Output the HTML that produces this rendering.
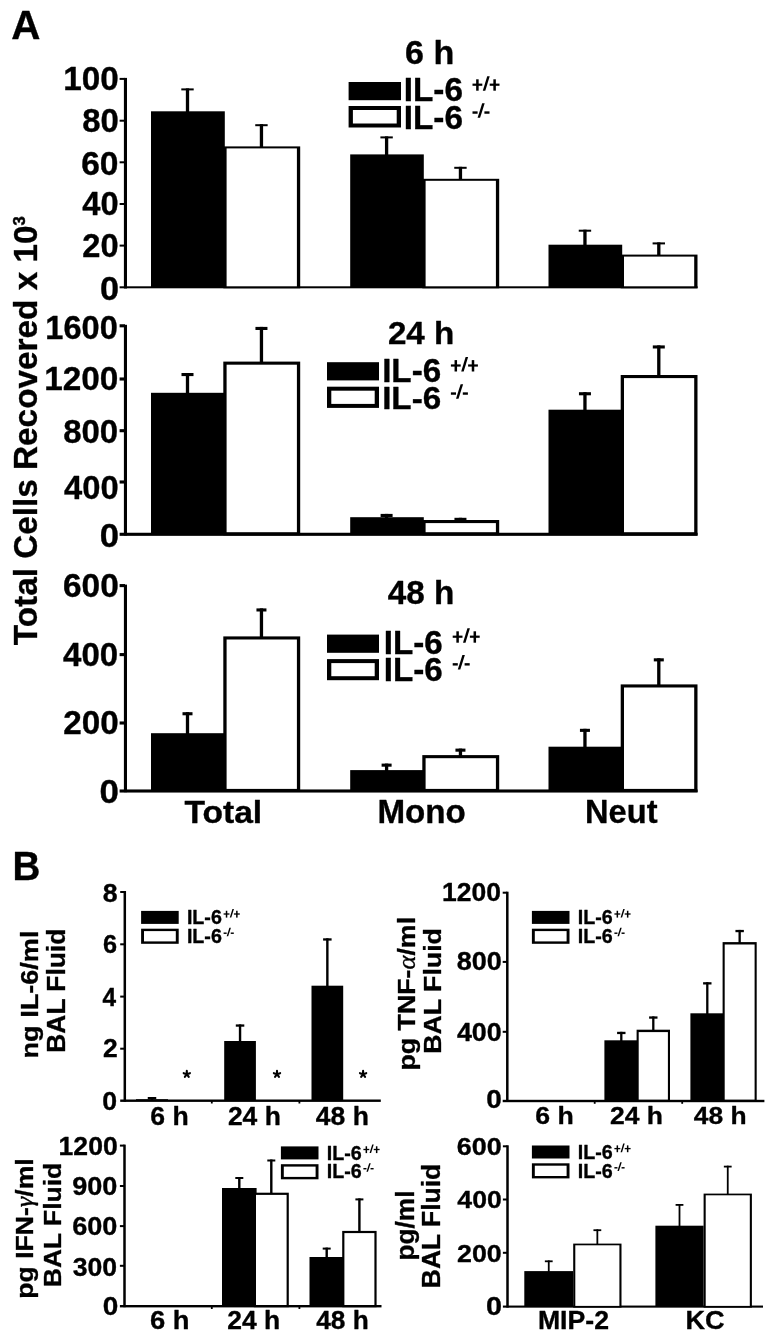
<!DOCTYPE html>
<html><head><meta charset="utf-8"><style>
html,body{margin:0;padding:0;background:#fff;overflow:hidden;}
svg{display:block;will-change:transform;}
text{font-family:"Liberation Sans",sans-serif;}
</style></head><body>
<svg width="778" height="1339" viewBox="0 0 778 1339">
<rect width="778" height="1339" fill="#fff"/>
<text transform="translate(11.16,38.73) scale(0.4038,0.4152)" font-size="100" style="font-kerning:normal" stroke="#000" stroke-width="0.85" stroke-linejoin="round"><tspan font-family="Liberation Sans" font-weight="bold" font-style="normal">A</tspan></text>
<rect x="123.90" y="77.90" width="3.10" height="210.60" fill="#000"/>
<rect x="119.60" y="286.30" width="578.00" height="2.00" fill="#000"/>
<rect x="119.60" y="244.60" width="5.40" height="2.00" fill="#000"/>
<rect x="119.60" y="203.00" width="5.40" height="2.00" fill="#000"/>
<rect x="119.60" y="161.30" width="5.40" height="2.00" fill="#000"/>
<rect x="119.60" y="119.70" width="5.40" height="2.00" fill="#000"/>
<rect x="119.60" y="77.90" width="5.40" height="2.00" fill="#000"/>
<text transform="translate(100.11,299.52) scale(0.3415,0.3364)" font-size="100" style="font-kerning:normal" stroke="#000" stroke-width="1.03" stroke-linejoin="round"><tspan font-family="Liberation Sans" font-weight="bold" font-style="normal">0</tspan></text>
<text transform="translate(82.30,257.43) scale(0.3264,0.3279)" font-size="100" style="font-kerning:normal" stroke="#000" stroke-width="1.07" stroke-linejoin="round"><tspan font-family="Liberation Sans" font-weight="bold" font-style="normal">20</tspan></text>
<text transform="translate(82.32,215.12) scale(0.3262,0.3236)" font-size="100" style="font-kerning:normal" stroke="#000" stroke-width="1.08" stroke-linejoin="round"><tspan font-family="Liberation Sans" font-weight="bold" font-style="normal">40</tspan></text>
<text transform="translate(81.23,174.82) scale(0.3354,0.3321)" font-size="100" style="font-kerning:normal" stroke="#000" stroke-width="1.05" stroke-linejoin="round"><tspan font-family="Liberation Sans" font-weight="bold" font-style="normal">60</tspan></text>
<text transform="translate(82.19,132.42) scale(0.3293,0.3250)" font-size="100" style="font-kerning:normal" stroke="#000" stroke-width="1.07" stroke-linejoin="round"><tspan font-family="Liberation Sans" font-weight="bold" font-style="normal">80</tspan></text>
<text transform="translate(63.18,90.42) scale(0.3328,0.3350)" font-size="100" style="font-kerning:normal" stroke="#000" stroke-width="1.05" stroke-linejoin="round"><tspan font-family="Liberation Sans" font-weight="bold" font-style="normal">100</tspan></text>
<rect x="185.85" y="88.40" width="3.30" height="23.90" fill="#000"/>
<rect x="181.30" y="88.40" width="12.40" height="2.00" fill="#000"/>
<rect x="151.00" y="111.30" width="73.80" height="176.00" fill="#000"/>
<rect x="259.80" y="124.20" width="3.30" height="23.20" fill="#000"/>
<rect x="255.25" y="124.20" width="12.40" height="2.00" fill="#000"/>
<rect x="223.30" y="146.40" width="76.90" height="141.90" fill="#000"/>
<rect x="226.60" y="148.40" width="70.30" height="137.90" fill="#fff"/>
<rect x="384.95" y="136.40" width="3.30" height="19.00" fill="#000"/>
<rect x="380.40" y="136.40" width="12.40" height="2.00" fill="#000"/>
<rect x="350.20" y="154.40" width="73.60" height="132.90" fill="#000"/>
<rect x="458.80" y="166.80" width="3.30" height="13.00" fill="#000"/>
<rect x="454.25" y="166.80" width="12.40" height="2.00" fill="#000"/>
<rect x="422.30" y="178.80" width="76.90" height="109.50" fill="#000"/>
<rect x="425.60" y="180.80" width="70.30" height="105.50" fill="#fff"/>
<rect x="583.30" y="229.70" width="3.30" height="16.00" fill="#000"/>
<rect x="578.75" y="229.70" width="12.40" height="2.00" fill="#000"/>
<rect x="548.50" y="244.70" width="73.70" height="42.60" fill="#000"/>
<rect x="657.15" y="242.40" width="3.30" height="13.20" fill="#000"/>
<rect x="652.60" y="242.40" width="12.40" height="2.00" fill="#000"/>
<rect x="620.70" y="254.60" width="76.80" height="33.70" fill="#000"/>
<rect x="624.00" y="256.60" width="70.20" height="29.70" fill="#fff"/>
<text transform="translate(405.01,64.12) scale(0.3407,0.3281)" font-size="100" style="font-kerning:normal" stroke="#000" stroke-width="1.05" stroke-linejoin="round"><tspan font-family="Liberation Sans" font-weight="bold" font-style="normal">6 h</tspan></text>
<rect x="348.60" y="82.00" width="52.40" height="18.20" fill="#000"/>
<rect x="348.60" y="106.00" width="52.40" height="21.50" fill="#000"/>
<rect x="352.90" y="110.00" width="43.80" height="13.50" fill="#fff"/>
<text transform="translate(403.74,101.33) scale(0.3332,0.3307)" font-size="100" style="font-kerning:normal" stroke="#000" stroke-width="1.05" stroke-linejoin="round"><tspan font-family="Liberation Sans" font-weight="bold" font-style="normal">IL-6</tspan></text>
<text transform="translate(403.74,128.52) scale(0.3332,0.3264)" font-size="100" style="font-kerning:normal" stroke="#000" stroke-width="1.06" stroke-linejoin="round"><tspan font-family="Liberation Sans" font-weight="bold" font-style="normal">IL-6</tspan></text>
<rect x="472.50" y="83.60" width="9.80" height="2.20" fill="#000"/>
<rect x="476.15" y="79.30" width="2.50" height="11.40" fill="#000"/>
<polygon points="482.80,90.70 485.30,90.70 489.70,76.30 487.20,76.30" fill="#000"/>
<rect x="489.70" y="83.60" width="9.80" height="2.20" fill="#000"/>
<rect x="493.35" y="79.30" width="2.50" height="11.40" fill="#000"/>
<rect x="472.50" y="111.35" width="5.10" height="2.40" fill="#000"/>
<polygon points="477.60,117.70 480.10,117.70 484.70,103.30 482.20,103.30" fill="#000"/>
<rect x="484.40" y="111.35" width="5.10" height="2.40" fill="#000"/>
<rect x="123.90" y="324.80" width="3.10" height="210.70" fill="#000"/>
<rect x="119.60" y="532.75" width="578.00" height="3.10" fill="#000"/>
<rect x="119.60" y="480.45" width="5.40" height="3.10" fill="#000"/>
<rect x="119.60" y="429.15" width="5.40" height="3.10" fill="#000"/>
<rect x="119.60" y="377.45" width="5.40" height="3.10" fill="#000"/>
<rect x="119.60" y="324.25" width="5.40" height="3.10" fill="#000"/>
<text transform="translate(99.79,546.73) scale(0.3457,0.3293)" font-size="100" style="font-kerning:normal" stroke="#000" stroke-width="1.04" stroke-linejoin="round"><tspan font-family="Liberation Sans" font-weight="bold" font-style="normal">0</tspan></text>
<text transform="translate(64.02,498.52) scale(0.3276,0.3293)" font-size="100" style="font-kerning:normal" stroke="#000" stroke-width="1.07" stroke-linejoin="round"><tspan font-family="Liberation Sans" font-weight="bold" font-style="normal">400</tspan></text>
<text transform="translate(63.19,442.72) scale(0.3297,0.3293)" font-size="100" style="font-kerning:normal" stroke="#000" stroke-width="1.06" stroke-linejoin="round"><tspan font-family="Liberation Sans" font-weight="bold" font-style="normal">800</tspan></text>
<text transform="translate(44.18,390.02) scale(0.3333,0.3307)" font-size="100" style="font-kerning:normal" stroke="#000" stroke-width="1.05" stroke-linejoin="round"><tspan font-family="Liberation Sans" font-weight="bold" font-style="normal">1200</tspan></text>
<text transform="translate(45.32,338.62) scale(0.3257,0.3236)" font-size="100" style="font-kerning:normal" stroke="#000" stroke-width="1.08" stroke-linejoin="round"><tspan font-family="Liberation Sans" font-weight="bold" font-style="normal">1600</tspan></text>
<rect x="185.85" y="373.00" width="3.30" height="20.80" fill="#000"/>
<rect x="181.50" y="373.00" width="12.00" height="3.10" fill="#000"/>
<rect x="151.00" y="392.80" width="73.80" height="141.50" fill="#000"/>
<rect x="259.80" y="326.90" width="3.30" height="35.70" fill="#000"/>
<rect x="255.45" y="326.90" width="12.00" height="3.10" fill="#000"/>
<rect x="223.30" y="361.60" width="76.90" height="173.70" fill="#000"/>
<rect x="226.60" y="364.70" width="70.30" height="167.50" fill="#fff"/>
<rect x="384.95" y="513.90" width="3.30" height="4.30" fill="#000"/>
<rect x="380.60" y="513.90" width="12.00" height="3.10" fill="#000"/>
<rect x="350.20" y="517.20" width="73.60" height="17.10" fill="#000"/>
<rect x="458.80" y="517.80" width="3.30" height="3.20" fill="#000"/>
<rect x="454.45" y="517.80" width="12.00" height="3.10" fill="#000"/>
<rect x="422.30" y="520.00" width="76.90" height="15.30" fill="#000"/>
<rect x="425.60" y="523.10" width="70.30" height="9.10" fill="#fff"/>
<rect x="583.30" y="392.20" width="3.30" height="18.50" fill="#000"/>
<rect x="578.95" y="392.20" width="12.00" height="3.10" fill="#000"/>
<rect x="548.50" y="409.70" width="73.70" height="124.60" fill="#000"/>
<rect x="657.15" y="345.40" width="3.30" height="30.60" fill="#000"/>
<rect x="652.80" y="345.40" width="12.00" height="3.10" fill="#000"/>
<rect x="620.70" y="375.00" width="76.80" height="160.30" fill="#000"/>
<rect x="624.00" y="378.10" width="70.20" height="154.10" fill="#fff"/>
<text transform="translate(387.88,343.82) scale(0.3322,0.3226)" font-size="100" style="font-kerning:normal" stroke="#000" stroke-width="1.07" stroke-linejoin="round"><tspan font-family="Liberation Sans" font-weight="bold" font-style="normal">24 h</tspan></text>
<rect x="327.00" y="362.20" width="52.00" height="18.20" fill="#000"/>
<rect x="327.00" y="386.70" width="52.00" height="21.20" fill="#000"/>
<rect x="331.30" y="390.70" width="43.40" height="13.20" fill="#fff"/>
<text transform="translate(382.15,382.02) scale(0.3320,0.3264)" font-size="100" style="font-kerning:normal" stroke="#000" stroke-width="1.06" stroke-linejoin="round"><tspan font-family="Liberation Sans" font-weight="bold" font-style="normal">IL-6</tspan></text>
<text transform="translate(382.15,409.22) scale(0.3320,0.3164)" font-size="100" style="font-kerning:normal" stroke="#000" stroke-width="1.08" stroke-linejoin="round"><tspan font-family="Liberation Sans" font-weight="bold" font-style="normal">IL-6</tspan></text>
<rect x="450.90" y="364.40" width="9.80" height="2.20" fill="#000"/>
<rect x="454.55" y="360.10" width="2.50" height="11.40" fill="#000"/>
<polygon points="461.20,371.50 463.70,371.50 468.10,357.10 465.60,357.10" fill="#000"/>
<rect x="468.10" y="364.40" width="9.80" height="2.20" fill="#000"/>
<rect x="471.75" y="360.10" width="2.50" height="11.40" fill="#000"/>
<rect x="450.90" y="392.35" width="5.10" height="2.40" fill="#000"/>
<polygon points="456.00,398.70 458.50,398.70 463.10,384.30 460.60,384.30" fill="#000"/>
<rect x="462.80" y="392.35" width="5.10" height="2.40" fill="#000"/>
<rect x="123.90" y="584.60" width="3.10" height="207.60" fill="#000"/>
<rect x="119.60" y="789.45" width="578.00" height="3.10" fill="#000"/>
<rect x="119.60" y="721.45" width="5.40" height="3.10" fill="#000"/>
<rect x="119.60" y="653.05" width="5.40" height="3.10" fill="#000"/>
<rect x="119.60" y="584.05" width="5.40" height="3.10" fill="#000"/>
<text transform="translate(99.38,802.53) scale(0.3479,0.3293)" font-size="100" style="font-kerning:normal" stroke="#000" stroke-width="1.03" stroke-linejoin="round"><tspan font-family="Liberation Sans" font-weight="bold" font-style="normal">0</tspan></text>
<text transform="translate(63.18,733.83) scale(0.3328,0.3236)" font-size="100" style="font-kerning:normal" stroke="#000" stroke-width="1.07" stroke-linejoin="round"><tspan font-family="Liberation Sans" font-weight="bold" font-style="normal">200</tspan></text>
<text transform="translate(63.11,666.43) scale(0.3301,0.3293)" font-size="100" style="font-kerning:normal" stroke="#000" stroke-width="1.06" stroke-linejoin="round"><tspan font-family="Liberation Sans" font-weight="bold" font-style="normal">400</tspan></text>
<text transform="translate(62.94,596.83) scale(0.3343,0.3293)" font-size="100" style="font-kerning:normal" stroke="#000" stroke-width="1.05" stroke-linejoin="round"><tspan font-family="Liberation Sans" font-weight="bold" font-style="normal">600</tspan></text>
<rect x="185.85" y="712.20" width="3.30" height="22.00" fill="#000"/>
<rect x="182.50" y="712.20" width="10.00" height="3.10" fill="#000"/>
<rect x="151.00" y="733.20" width="73.80" height="57.80" fill="#000"/>
<rect x="259.80" y="608.40" width="3.30" height="29.00" fill="#000"/>
<rect x="256.45" y="608.40" width="10.00" height="3.10" fill="#000"/>
<rect x="223.30" y="636.40" width="76.90" height="155.60" fill="#000"/>
<rect x="226.60" y="639.50" width="70.30" height="149.40" fill="#fff"/>
<rect x="384.95" y="763.60" width="3.30" height="7.50" fill="#000"/>
<rect x="381.60" y="763.60" width="10.00" height="3.10" fill="#000"/>
<rect x="350.20" y="770.10" width="73.60" height="20.90" fill="#000"/>
<rect x="458.80" y="748.60" width="3.30" height="7.50" fill="#000"/>
<rect x="455.45" y="748.60" width="10.00" height="3.10" fill="#000"/>
<rect x="422.30" y="755.10" width="76.90" height="36.90" fill="#000"/>
<rect x="425.60" y="758.20" width="70.30" height="30.70" fill="#fff"/>
<rect x="583.30" y="728.80" width="3.30" height="18.90" fill="#000"/>
<rect x="579.95" y="728.80" width="10.00" height="3.10" fill="#000"/>
<rect x="548.50" y="746.70" width="73.70" height="44.30" fill="#000"/>
<rect x="657.15" y="658.30" width="3.30" height="27.10" fill="#000"/>
<rect x="653.80" y="658.30" width="10.00" height="3.10" fill="#000"/>
<rect x="620.70" y="684.40" width="76.80" height="107.60" fill="#000"/>
<rect x="624.00" y="687.50" width="70.20" height="101.40" fill="#fff"/>
<text transform="translate(387.71,603.73) scale(0.3331,0.3240)" font-size="100" style="font-kerning:normal" stroke="#000" stroke-width="1.07" stroke-linejoin="round"><tspan font-family="Liberation Sans" font-weight="bold" font-style="normal">48 h</tspan></text>
<rect x="327.00" y="634.60" width="52.00" height="18.20" fill="#000"/>
<rect x="327.00" y="659.10" width="52.00" height="21.10" fill="#000"/>
<rect x="331.30" y="663.10" width="43.40" height="13.10" fill="#fff"/>
<text transform="translate(383.75,654.03) scale(0.3320,0.3407)" font-size="100" style="font-kerning:normal" stroke="#000" stroke-width="1.04" stroke-linejoin="round"><tspan font-family="Liberation Sans" font-weight="bold" font-style="normal">IL-6</tspan></text>
<text transform="translate(383.75,680.53) scale(0.3320,0.3264)" font-size="100" style="font-kerning:normal" stroke="#000" stroke-width="1.06" stroke-linejoin="round"><tspan font-family="Liberation Sans" font-weight="bold" font-style="normal">IL-6</tspan></text>
<rect x="452.70" y="635.60" width="9.80" height="2.20" fill="#000"/>
<rect x="456.35" y="631.30" width="2.50" height="11.40" fill="#000"/>
<polygon points="463.00,642.70 465.50,642.70 469.90,628.30 467.40,628.30" fill="#000"/>
<rect x="469.90" y="635.60" width="9.80" height="2.20" fill="#000"/>
<rect x="473.55" y="631.30" width="2.50" height="11.40" fill="#000"/>
<rect x="452.70" y="663.15" width="5.10" height="2.40" fill="#000"/>
<polygon points="457.80,669.50 460.30,669.50 464.90,655.10 462.40,655.10" fill="#000"/>
<rect x="464.60" y="663.15" width="5.10" height="2.40" fill="#000"/>
<text transform="translate(184.44,822.62) scale(0.3361,0.3212)" font-size="100" style="font-kerning:normal" stroke="#000" stroke-width="1.06" stroke-linejoin="round"><tspan font-family="Liberation Sans" font-weight="bold" font-style="normal">Total</tspan></text>
<text transform="translate(377.45,823.33) scale(0.3318,0.3370)" font-size="100" style="font-kerning:normal" stroke="#000" stroke-width="1.05" stroke-linejoin="round"><tspan font-family="Liberation Sans" font-weight="bold" font-style="normal">Mono</tspan></text>
<text transform="translate(585.09,823.33) scale(0.3259,0.3341)" font-size="100" style="font-kerning:normal" stroke="#000" stroke-width="1.06" stroke-linejoin="round"><tspan font-family="Liberation Sans" font-weight="bold" font-style="normal">Neut</tspan></text>
<text transform="translate(37.43,645.16) rotate(-90) scale(0.3332,0.3267)" font-size="100" style="font-kerning:normal" stroke="#000" stroke-width="1.06" stroke-linejoin="round"><tspan font-family="Liberation Sans" font-weight="bold" font-style="normal">Total Cells Recovered x 10</tspan></text>
<text transform="translate(25.45,225.58) rotate(-90) scale(0.1660,0.1557)" font-size="100" style="font-kerning:normal" stroke="#000" stroke-width="3.11" stroke-linejoin="round"><tspan font-family="Liberation Sans" font-weight="bold" font-style="normal">3</tspan></text>
<text transform="translate(12.47,879.53) scale(0.3861,0.4123)" font-size="100" style="font-kerning:normal" stroke="#000" stroke-width="0.88" stroke-linejoin="round"><tspan font-family="Liberation Sans" font-weight="bold" font-style="normal">B</tspan></text>
<rect x="123.55" y="891.00" width="2.50" height="210.70" fill="#000"/>
<rect x="120.20" y="1099.50" width="260.60" height="2.40" fill="#000"/>
<rect x="120.20" y="1047.70" width="4.60" height="2.00" fill="#000"/>
<rect x="120.20" y="995.60" width="4.60" height="2.00" fill="#000"/>
<rect x="120.20" y="943.30" width="4.60" height="2.00" fill="#000"/>
<rect x="120.20" y="891.00" width="4.60" height="2.00" fill="#000"/>
<text transform="translate(102.21,1110.23) scale(0.2670,0.2579)" font-size="100" style="font-kerning:normal" stroke="#000" stroke-width="1.33" stroke-linejoin="round"><tspan font-family="Liberation Sans" font-weight="bold" font-style="normal">0</tspan></text>
<text transform="translate(103.08,1056.62) scale(0.2643,0.2536)" font-size="100" style="font-kerning:normal" stroke="#000" stroke-width="1.35" stroke-linejoin="round"><tspan font-family="Liberation Sans" font-weight="bold" font-style="normal">2</tspan></text>
<text transform="translate(102.39,1005.73) scale(0.2443,0.2659)" font-size="100" style="font-kerning:normal" stroke="#000" stroke-width="1.37" stroke-linejoin="round"><tspan font-family="Liberation Sans" font-weight="bold" font-style="normal">4</tspan></text>
<text transform="translate(103.06,952.83) scale(0.2531,0.2536)" font-size="100" style="font-kerning:normal" stroke="#000" stroke-width="1.38" stroke-linejoin="round"><tspan font-family="Liberation Sans" font-weight="bold" font-style="normal">6</tspan></text>
<text transform="translate(102.87,901.62) scale(0.2670,0.2536)" font-size="100" style="font-kerning:normal" stroke="#000" stroke-width="1.34" stroke-linejoin="round"><tspan font-family="Liberation Sans" font-weight="bold" font-style="normal">8</tspan></text>
<rect x="210.90" y="1100.70" width="1.80" height="2.80" fill="#000"/>
<rect x="298.50" y="1100.70" width="1.80" height="2.80" fill="#000"/>
<rect x="150.80" y="1097.00" width="2.40" height="3.20" fill="#000"/>
<rect x="147.75" y="1097.00" width="8.50" height="2.30" fill="#000"/>
<rect x="136.00" y="1099.20" width="32.00" height="1.50" fill="#000"/>
<rect x="238.85" y="1024.40" width="2.40" height="17.60" fill="#000"/>
<rect x="235.80" y="1024.40" width="8.50" height="2.30" fill="#000"/>
<rect x="224.20" y="1041.00" width="31.70" height="59.70" fill="#000"/>
<rect x="326.15" y="938.30" width="2.40" height="48.40" fill="#000"/>
<rect x="323.10" y="938.30" width="8.50" height="2.30" fill="#000"/>
<rect x="311.50" y="985.70" width="31.70" height="115.00" fill="#000"/>
<rect x="141.10" y="910.90" width="37.60" height="13.00" fill="#000"/>
<rect x="141.10" y="928.70" width="37.60" height="15.10" fill="#000"/>
<rect x="144.00" y="931.10" width="31.80" height="10.30" fill="#fff"/>
<text transform="translate(186.90,924.33) scale(0.1967,0.1964)" font-size="100" style="font-kerning:normal" stroke="#000" stroke-width="1.78" stroke-linejoin="round"><tspan font-family="Liberation Sans" font-weight="bold" font-style="normal">IL-6</tspan></text>
<text transform="translate(186.90,942.93) scale(0.1967,0.2050)" font-size="100" style="font-kerning:normal" stroke="#000" stroke-width="1.74" stroke-linejoin="round"><tspan font-family="Liberation Sans" font-weight="bold" font-style="normal">IL-6</tspan></text>
<rect x="223.60" y="913.34" width="5.88" height="1.32" fill="#000"/>
<rect x="225.79" y="910.76" width="1.50" height="6.84" fill="#000"/>
<polygon points="229.78,917.60 231.28,917.60 233.92,908.96 232.42,908.96" fill="#000"/>
<rect x="233.92" y="913.34" width="5.88" height="1.32" fill="#000"/>
<rect x="236.11" y="910.76" width="1.50" height="6.84" fill="#000"/>
<rect x="223.60" y="932.49" width="3.06" height="1.44" fill="#000"/>
<polygon points="226.66,936.30 228.16,936.30 230.92,927.66 229.42,927.66" fill="#000"/>
<rect x="230.74" y="932.49" width="3.06" height="1.44" fill="#000"/>
<text transform="translate(150.21,1124.53) scale(0.2660,0.2568)" font-size="100" style="font-kerning:normal" stroke="#000" stroke-width="1.34" stroke-linejoin="round"><tspan font-family="Liberation Sans" font-weight="bold" font-style="normal">6 h</tspan></text>
<text transform="translate(227.88,1124.53) scale(0.2647,0.2568)" font-size="100" style="font-kerning:normal" stroke="#000" stroke-width="1.34" stroke-linejoin="round"><tspan font-family="Liberation Sans" font-weight="bold" font-style="normal">24 h</tspan></text>
<text transform="translate(315.85,1124.53) scale(0.2648,0.2568)" font-size="100" style="font-kerning:normal" stroke="#000" stroke-width="1.34" stroke-linejoin="round"><tspan font-family="Liberation Sans" font-weight="bold" font-style="normal">48 h</tspan></text>
<path d="M186.80,1074.20L186.80,1070.90M186.80,1074.20L189.94,1073.18M186.80,1074.20L188.74,1076.87M186.80,1074.20L184.86,1076.87M186.80,1074.20L183.66,1073.18" stroke="#000" stroke-width="2.1" stroke-linecap="round" fill="none"/>
<path d="M277.00,1074.20L277.00,1070.90M277.00,1074.20L280.14,1073.18M277.00,1074.20L278.94,1076.87M277.00,1074.20L275.06,1076.87M277.00,1074.20L273.86,1073.18" stroke="#000" stroke-width="2.1" stroke-linecap="round" fill="none"/>
<path d="M363.10,1074.20L363.10,1070.90M363.10,1074.20L366.24,1073.18M363.10,1074.20L365.04,1076.87M363.10,1074.20L361.16,1076.87M363.10,1074.20L359.96,1073.18" stroke="#000" stroke-width="2.1" stroke-linecap="round" fill="none"/>
<text transform="translate(37.62,1058.42) rotate(-90) scale(0.2709,0.2473)" font-size="100" style="font-kerning:normal" stroke="#000" stroke-width="1.35" stroke-linejoin="round"><tspan font-family="Liberation Sans" font-weight="bold" font-style="normal">ng IL-6/ml</tspan></text>
<text transform="translate(64.73,1052.67) rotate(-90) scale(0.2638,0.2541)" font-size="100" style="font-kerning:normal" stroke="#000" stroke-width="1.35" stroke-linejoin="round"><tspan font-family="Liberation Sans" font-weight="bold" font-style="normal">BAL Fluid</tspan></text>
<rect x="506.05" y="891.70" width="2.50" height="210.30" fill="#000"/>
<rect x="502.70" y="1099.80" width="261.70" height="2.40" fill="#000"/>
<rect x="502.70" y="1030.80" width="4.60" height="2.00" fill="#000"/>
<rect x="502.70" y="960.90" width="4.60" height="2.00" fill="#000"/>
<rect x="502.70" y="891.70" width="4.60" height="2.00" fill="#000"/>
<text transform="translate(486.16,1108.42) scale(0.2798,0.2564)" font-size="100" style="font-kerning:normal" stroke="#000" stroke-width="1.31" stroke-linejoin="round"><tspan font-family="Liberation Sans" font-weight="bold" font-style="normal">0</tspan></text>
<text transform="translate(456.94,1040.92) scale(0.2686,0.2536)" font-size="100" style="font-kerning:normal" stroke="#000" stroke-width="1.34" stroke-linejoin="round"><tspan font-family="Liberation Sans" font-weight="bold" font-style="normal">400</tspan></text>
<text transform="translate(456.66,970.23) scale(0.2703,0.2493)" font-size="100" style="font-kerning:normal" stroke="#000" stroke-width="1.35" stroke-linejoin="round"><tspan font-family="Liberation Sans" font-weight="bold" font-style="normal">800</tspan></text>
<text transform="translate(441.99,900.83) scale(0.2649,0.2521)" font-size="100" style="font-kerning:normal" stroke="#000" stroke-width="1.35" stroke-linejoin="round"><tspan font-family="Liberation Sans" font-weight="bold" font-style="normal">1200</tspan></text>
<rect x="593.80" y="1101.00" width="1.80" height="2.80" fill="#000"/>
<rect x="681.30" y="1101.00" width="1.80" height="2.80" fill="#000"/>
<rect x="620.15" y="1031.80" width="2.30" height="9.50" fill="#000"/>
<rect x="617.10" y="1031.80" width="8.40" height="2.30" fill="#000"/>
<rect x="604.40" y="1040.30" width="33.80" height="60.70" fill="#000"/>
<rect x="652.15" y="1016.40" width="2.30" height="14.30" fill="#000"/>
<rect x="649.10" y="1016.40" width="8.40" height="2.30" fill="#000"/>
<rect x="636.60" y="1029.70" width="33.40" height="72.30" fill="#000"/>
<rect x="638.70" y="1032.10" width="29.20" height="67.50" fill="#fff"/>
<rect x="706.15" y="982.20" width="2.30" height="32.10" fill="#000"/>
<rect x="703.10" y="982.20" width="8.40" height="2.30" fill="#000"/>
<rect x="690.40" y="1013.30" width="33.80" height="87.70" fill="#000"/>
<rect x="738.50" y="929.90" width="2.30" height="13.20" fill="#000"/>
<rect x="735.45" y="929.90" width="8.40" height="2.30" fill="#000"/>
<rect x="722.60" y="942.10" width="34.10" height="159.90" fill="#000"/>
<rect x="724.70" y="944.50" width="29.90" height="155.10" fill="#fff"/>
<rect x="531.90" y="910.90" width="37.60" height="13.00" fill="#000"/>
<rect x="531.90" y="928.70" width="37.60" height="15.10" fill="#000"/>
<rect x="534.80" y="931.10" width="31.80" height="10.30" fill="#fff"/>
<text transform="translate(577.70,924.33) scale(0.1967,0.1964)" font-size="100" style="font-kerning:normal" stroke="#000" stroke-width="1.78" stroke-linejoin="round"><tspan font-family="Liberation Sans" font-weight="bold" font-style="normal">IL-6</tspan></text>
<text transform="translate(577.70,942.93) scale(0.1967,0.2050)" font-size="100" style="font-kerning:normal" stroke="#000" stroke-width="1.74" stroke-linejoin="round"><tspan font-family="Liberation Sans" font-weight="bold" font-style="normal">IL-6</tspan></text>
<rect x="614.40" y="913.34" width="5.88" height="1.32" fill="#000"/>
<rect x="616.59" y="910.76" width="1.50" height="6.84" fill="#000"/>
<polygon points="620.58,917.60 622.08,917.60 624.72,908.96 623.22,908.96" fill="#000"/>
<rect x="624.72" y="913.34" width="5.88" height="1.32" fill="#000"/>
<rect x="626.91" y="910.76" width="1.50" height="6.84" fill="#000"/>
<rect x="614.40" y="932.49" width="3.06" height="1.44" fill="#000"/>
<polygon points="617.46,936.30 618.96,936.30 621.72,927.66 620.22,927.66" fill="#000"/>
<rect x="621.54" y="932.49" width="3.06" height="1.44" fill="#000"/>
<text transform="translate(535.31,1124.42) scale(0.2668,0.2473)" font-size="100" style="font-kerning:normal" stroke="#000" stroke-width="1.36" stroke-linejoin="round"><tspan font-family="Liberation Sans" font-weight="bold" font-style="normal">6 h</tspan></text>
<text transform="translate(610.08,1124.42) scale(0.2647,0.2473)" font-size="100" style="font-kerning:normal" stroke="#000" stroke-width="1.37" stroke-linejoin="round"><tspan font-family="Liberation Sans" font-weight="bold" font-style="normal">24 h</tspan></text>
<text transform="translate(693.75,1124.42) scale(0.2643,0.2473)" font-size="100" style="font-kerning:normal" stroke="#000" stroke-width="1.37" stroke-linejoin="round"><tspan font-family="Liberation Sans" font-weight="bold" font-style="normal">48 h</tspan></text>
<text transform="translate(415.02,1070.50) rotate(-90) scale(0.2672,0.2445)" font-size="100" style="font-kerning:normal" stroke="#000" stroke-width="1.37" stroke-linejoin="round"><tspan font-family="Liberation Sans" font-weight="bold" font-style="normal">pg TNF-</tspan><tspan font-family="Liberation Serif" font-weight="normal" font-style="italic">α</tspan><tspan font-family="Liberation Sans" font-weight="bold" font-style="normal">/ml</tspan></text>
<text transform="translate(441.22,1053.69) rotate(-90) scale(0.2671,0.2349)" font-size="100" style="font-kerning:normal" stroke="#000" stroke-width="1.39" stroke-linejoin="round"><tspan font-family="Liberation Sans" font-weight="bold" font-style="normal">BAL Fluid</tspan></text>
<rect x="123.25" y="1144.60" width="2.50" height="162.60" fill="#000"/>
<rect x="119.90" y="1305.00" width="261.60" height="2.40" fill="#000"/>
<rect x="119.90" y="1264.80" width="4.60" height="2.00" fill="#000"/>
<rect x="119.90" y="1225.10" width="4.60" height="2.00" fill="#000"/>
<rect x="119.90" y="1185.00" width="4.60" height="2.00" fill="#000"/>
<rect x="119.90" y="1144.60" width="4.60" height="2.00" fill="#000"/>
<text transform="translate(102.76,1314.73) scale(0.2798,0.2521)" font-size="100" style="font-kerning:normal" stroke="#000" stroke-width="1.32" stroke-linejoin="round"><tspan font-family="Liberation Sans" font-weight="bold" font-style="normal">0</tspan></text>
<text transform="translate(72.74,1275.62) scale(0.2661,0.2593)" font-size="100" style="font-kerning:normal" stroke="#000" stroke-width="1.33" stroke-linejoin="round"><tspan font-family="Liberation Sans" font-weight="bold" font-style="normal">300</tspan></text>
<text transform="translate(72.19,1235.42) scale(0.2708,0.2550)" font-size="100" style="font-kerning:normal" stroke="#000" stroke-width="1.33" stroke-linejoin="round"><tspan font-family="Liberation Sans" font-weight="bold" font-style="normal">600</tspan></text>
<text transform="translate(72.19,1195.33) scale(0.2708,0.2550)" font-size="100" style="font-kerning:normal" stroke="#000" stroke-width="1.33" stroke-linejoin="round"><tspan font-family="Liberation Sans" font-weight="bold" font-style="normal">900</tspan></text>
<text transform="translate(58.58,1154.62) scale(0.2658,0.2521)" font-size="100" style="font-kerning:normal" stroke="#000" stroke-width="1.35" stroke-linejoin="round"><tspan font-family="Liberation Sans" font-weight="bold" font-style="normal">1200</tspan></text>
<rect x="210.90" y="1306.20" width="1.80" height="2.80" fill="#000"/>
<rect x="298.50" y="1306.20" width="1.80" height="2.80" fill="#000"/>
<rect x="238.10" y="1177.00" width="2.40" height="12.00" fill="#000"/>
<rect x="235.30" y="1177.00" width="8.00" height="2.00" fill="#000"/>
<rect x="222.00" y="1188.00" width="34.60" height="118.20" fill="#000"/>
<rect x="270.10" y="1159.50" width="2.40" height="34.20" fill="#000"/>
<rect x="267.30" y="1159.50" width="8.00" height="2.00" fill="#000"/>
<rect x="253.80" y="1192.70" width="35.00" height="114.50" fill="#000"/>
<rect x="256.00" y="1194.90" width="30.60" height="110.10" fill="#fff"/>
<rect x="325.50" y="1247.60" width="2.40" height="10.40" fill="#000"/>
<rect x="322.70" y="1247.60" width="8.00" height="2.00" fill="#000"/>
<rect x="309.50" y="1257.00" width="34.40" height="49.20" fill="#000"/>
<rect x="358.20" y="1198.40" width="2.40" height="33.50" fill="#000"/>
<rect x="355.40" y="1198.40" width="8.00" height="2.00" fill="#000"/>
<rect x="342.20" y="1230.90" width="34.40" height="76.30" fill="#000"/>
<rect x="344.40" y="1233.10" width="30.00" height="71.90" fill="#fff"/>
<rect x="280.90" y="1146.40" width="37.60" height="13.00" fill="#000"/>
<rect x="280.90" y="1164.20" width="37.60" height="15.10" fill="#000"/>
<rect x="283.80" y="1166.60" width="31.80" height="10.30" fill="#fff"/>
<text transform="translate(326.70,1159.83) scale(0.1967,0.1964)" font-size="100" style="font-kerning:normal" stroke="#000" stroke-width="1.78" stroke-linejoin="round"><tspan font-family="Liberation Sans" font-weight="bold" font-style="normal">IL-6</tspan></text>
<text transform="translate(326.70,1178.43) scale(0.1967,0.2050)" font-size="100" style="font-kerning:normal" stroke="#000" stroke-width="1.74" stroke-linejoin="round"><tspan font-family="Liberation Sans" font-weight="bold" font-style="normal">IL-6</tspan></text>
<rect x="363.40" y="1148.84" width="5.88" height="1.32" fill="#000"/>
<rect x="365.59" y="1146.26" width="1.50" height="6.84" fill="#000"/>
<polygon points="369.58,1153.10 371.08,1153.10 373.72,1144.46 372.22,1144.46" fill="#000"/>
<rect x="373.72" y="1148.84" width="5.88" height="1.32" fill="#000"/>
<rect x="375.91" y="1146.26" width="1.50" height="6.84" fill="#000"/>
<rect x="363.40" y="1167.99" width="3.06" height="1.44" fill="#000"/>
<polygon points="366.46,1171.80 367.96,1171.80 370.72,1163.16 369.22,1163.16" fill="#000"/>
<rect x="370.54" y="1167.99" width="3.06" height="1.44" fill="#000"/>
<text transform="translate(149.88,1328.53) scale(0.2735,0.2541)" font-size="100" style="font-kerning:normal" stroke="#000" stroke-width="1.33" stroke-linejoin="round"><tspan font-family="Liberation Sans" font-weight="bold" font-style="normal">6 h</tspan></text>
<text transform="translate(227.28,1328.53) scale(0.2647,0.2541)" font-size="100" style="font-kerning:normal" stroke="#000" stroke-width="1.35" stroke-linejoin="round"><tspan font-family="Liberation Sans" font-weight="bold" font-style="normal">24 h</tspan></text>
<text transform="translate(316.25,1328.53) scale(0.2628,0.2541)" font-size="100" style="font-kerning:normal" stroke="#000" stroke-width="1.35" stroke-linejoin="round"><tspan font-family="Liberation Sans" font-weight="bold" font-style="normal">48 h</tspan></text>
<text transform="translate(33.23,1298.69) rotate(-90) scale(0.2659,0.2473)" font-size="100" style="font-kerning:normal" stroke="#000" stroke-width="1.36" stroke-linejoin="round"><tspan font-family="Liberation Sans" font-weight="bold" font-style="normal">pg IFN-</tspan><tspan font-family="Liberation Serif" font-weight="normal" font-style="italic">γ</tspan><tspan font-family="Liberation Sans" font-weight="bold" font-style="normal">/ml</tspan></text>
<text transform="translate(60.83,1287.07) rotate(-90) scale(0.2642,0.2473)" font-size="100" style="font-kerning:normal" stroke="#000" stroke-width="1.37" stroke-linejoin="round"><tspan font-family="Liberation Sans" font-weight="bold" font-style="normal">BAL Fluid</tspan></text>
<rect x="506.25" y="1145.30" width="2.50" height="162.30" fill="#000"/>
<rect x="502.90" y="1305.55" width="260.10" height="2.10" fill="#000"/>
<rect x="502.90" y="1251.80" width="4.60" height="2.00" fill="#000"/>
<rect x="502.90" y="1198.50" width="4.60" height="2.00" fill="#000"/>
<rect x="502.90" y="1145.30" width="4.60" height="2.00" fill="#000"/>
<text transform="translate(486.12,1314.83) scale(0.2883,0.2521)" font-size="100" style="font-kerning:normal" stroke="#000" stroke-width="1.30" stroke-linejoin="round"><tspan font-family="Liberation Sans" font-weight="bold" font-style="normal">0</tspan></text>
<text transform="translate(457.07,1261.53) scale(0.2678,0.2479)" font-size="100" style="font-kerning:normal" stroke="#000" stroke-width="1.36" stroke-linejoin="round"><tspan font-family="Liberation Sans" font-weight="bold" font-style="normal">200</tspan></text>
<text transform="translate(457.34,1208.12) scale(0.2661,0.2479)" font-size="100" style="font-kerning:normal" stroke="#000" stroke-width="1.36" stroke-linejoin="round"><tspan font-family="Liberation Sans" font-weight="bold" font-style="normal">400</tspan></text>
<text transform="translate(456.80,1154.53) scale(0.2695,0.2479)" font-size="100" style="font-kerning:normal" stroke="#000" stroke-width="1.35" stroke-linejoin="round"><tspan font-family="Liberation Sans" font-weight="bold" font-style="normal">600</tspan></text>
<rect x="547.85" y="1260.40" width="1.80" height="11.70" fill="#000"/>
<rect x="544.85" y="1260.40" width="7.80" height="1.80" fill="#000"/>
<rect x="524.30" y="1271.10" width="48.90" height="35.50" fill="#000"/>
<rect x="596.45" y="1229.30" width="1.80" height="15.30" fill="#000"/>
<rect x="593.45" y="1229.30" width="7.80" height="1.80" fill="#000"/>
<rect x="573.20" y="1243.60" width="48.30" height="64.00" fill="#000"/>
<rect x="575.30" y="1245.30" width="44.10" height="60.60" fill="#fff"/>
<rect x="678.60" y="1204.00" width="1.80" height="22.70" fill="#000"/>
<rect x="675.60" y="1204.00" width="7.80" height="1.80" fill="#000"/>
<rect x="655.40" y="1225.70" width="48.20" height="80.90" fill="#000"/>
<rect x="726.85" y="1165.70" width="1.80" height="28.90" fill="#000"/>
<rect x="723.85" y="1165.70" width="7.80" height="1.80" fill="#000"/>
<rect x="703.60" y="1193.60" width="48.30" height="114.00" fill="#000"/>
<rect x="705.70" y="1195.30" width="44.10" height="110.60" fill="#fff"/>
<rect x="531.90" y="1145.50" width="37.60" height="13.00" fill="#000"/>
<rect x="531.90" y="1163.30" width="37.60" height="15.10" fill="#000"/>
<rect x="534.80" y="1165.70" width="31.80" height="10.30" fill="#fff"/>
<text transform="translate(577.70,1158.92) scale(0.1967,0.1964)" font-size="100" style="font-kerning:normal" stroke="#000" stroke-width="1.78" stroke-linejoin="round"><tspan font-family="Liberation Sans" font-weight="bold" font-style="normal">IL-6</tspan></text>
<text transform="translate(577.70,1177.53) scale(0.1967,0.2050)" font-size="100" style="font-kerning:normal" stroke="#000" stroke-width="1.74" stroke-linejoin="round"><tspan font-family="Liberation Sans" font-weight="bold" font-style="normal">IL-6</tspan></text>
<rect x="614.40" y="1147.94" width="5.88" height="1.32" fill="#000"/>
<rect x="616.59" y="1145.36" width="1.50" height="6.84" fill="#000"/>
<polygon points="620.58,1152.20 622.08,1152.20 624.72,1143.56 623.22,1143.56" fill="#000"/>
<rect x="624.72" y="1147.94" width="5.88" height="1.32" fill="#000"/>
<rect x="626.91" y="1145.36" width="1.50" height="6.84" fill="#000"/>
<rect x="614.40" y="1167.09" width="3.06" height="1.44" fill="#000"/>
<polygon points="617.46,1170.90 618.96,1170.90 621.72,1162.26 620.22,1162.26" fill="#000"/>
<rect x="621.54" y="1167.09" width="3.06" height="1.44" fill="#000"/>
<text transform="translate(537.91,1328.53) scale(0.2666,0.2664)" font-size="100" style="font-kerning:normal" stroke="#000" stroke-width="1.31" stroke-linejoin="round"><tspan font-family="Liberation Sans" font-weight="bold" font-style="normal">MIP-2</tspan></text>
<text transform="translate(685.38,1328.53) scale(0.2713,0.2664)" font-size="100" style="font-kerning:normal" stroke="#000" stroke-width="1.30" stroke-linejoin="round"><tspan font-family="Liberation Sans" font-weight="bold" font-style="normal">KC</tspan></text>
<text transform="translate(413.82,1260.46) rotate(-90) scale(0.2621,0.2568)" font-size="100" style="font-kerning:normal" stroke="#000" stroke-width="1.35" stroke-linejoin="round"><tspan font-family="Liberation Sans" font-weight="bold" font-style="normal">pg/ml</tspan></text>
<text transform="translate(440.12,1288.18) rotate(-90) scale(0.2647,0.2568)" font-size="100" style="font-kerning:normal" stroke="#000" stroke-width="1.34" stroke-linejoin="round"><tspan font-family="Liberation Sans" font-weight="bold" font-style="normal">BAL Fluid</tspan></text>
</svg>
</body></html>
